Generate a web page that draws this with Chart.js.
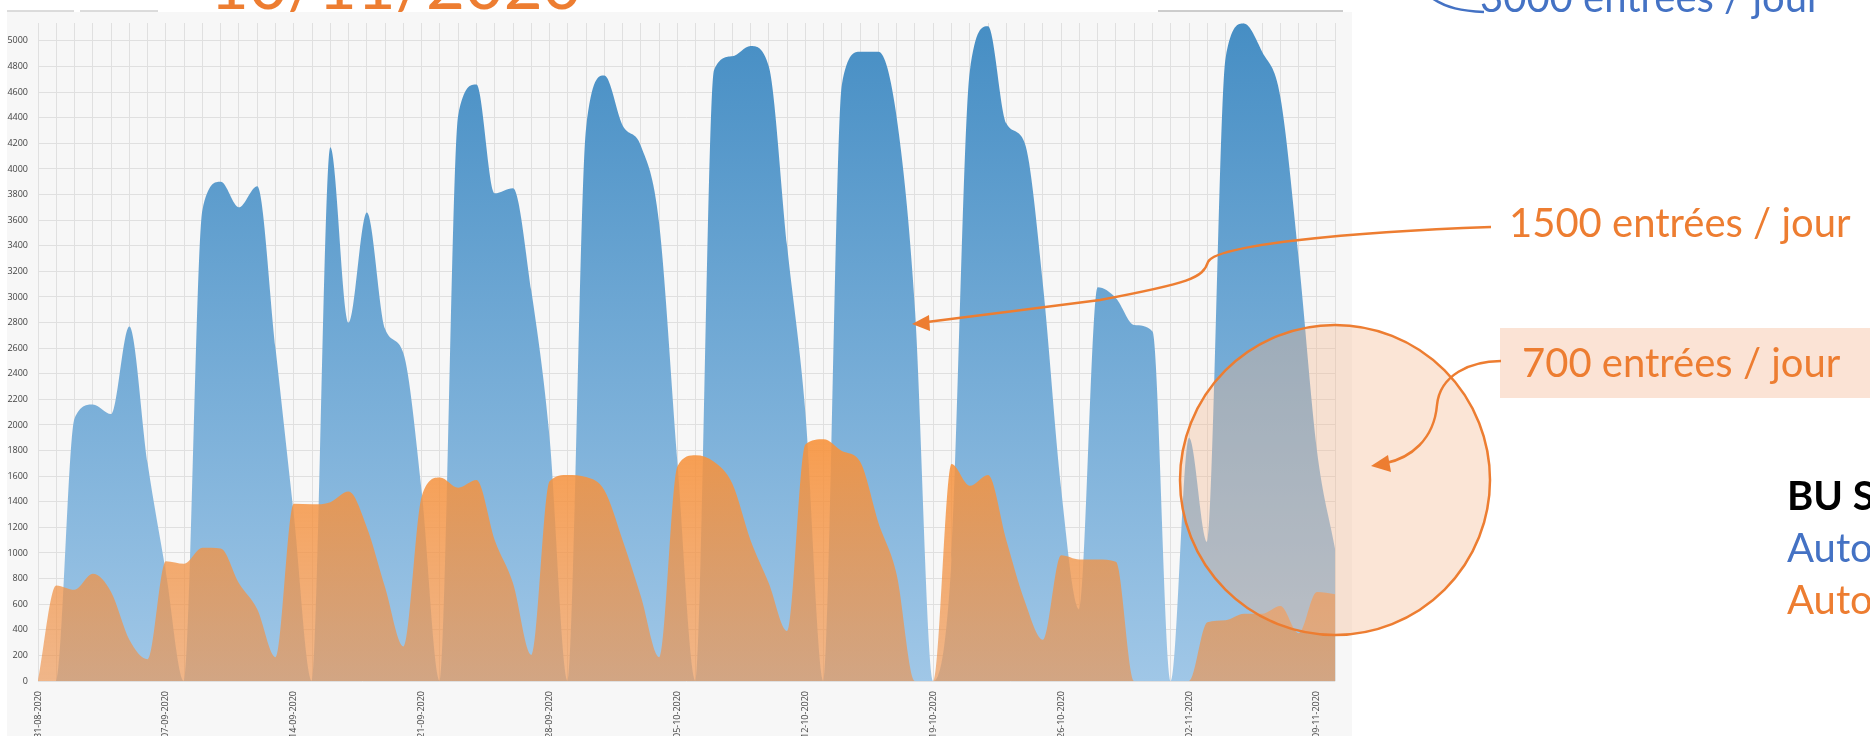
<!DOCTYPE html>
<html>
<head>
<meta charset="utf-8">
<script src="https://cdn.jsdelivr.net/npm/chart.js@4.4.1/dist/chart.umd.min.js"></script>
<style>
html,body{margin:0;padding:0;width:1870px;height:736px;overflow:hidden;background:#ffffff;}
#panel{position:absolute;left:7px;top:12px;width:1345px;height:724px;background:#f7f7f7;}
#wrap{position:absolute;left:0;top:0;width:1356px;height:736px;}
#c{width:1356px;height:736px;display:block;}
#ann{position:absolute;left:0;top:0;}
</style>
</head>
<body>
<div id="panel"></div>
<div id="wrap"><canvas id="c" width="1356" height="736"></canvas></div>
<svg id="ann" width="1870" height="736" xmlns="http://www.w3.org/2000/svg" font-family="Lato, 'Open Sans', sans-serif">
  <line x1="7" y1="11" x2="74" y2="11" stroke="#b8b8b8" stroke-width="1"/>
  <line x1="80" y1="11" x2="158" y2="11" stroke="#b8b8b8" stroke-width="1"/>
  <line x1="1158" y1="11" x2="1343" y2="11" stroke="#9a9a9a" stroke-width="1"/>
  <text x="210" y="9" font-size="67" fill="#ed7d31">10/11/2020</text>

  <path d="M1432,-2 C1446,8 1462,11 1484,12" stroke="#4472c4" stroke-width="2.5" fill="none"/>
  <text x="1480" y="12" font-size="40" fill="#4472c4">3000 entrées / jour</text>

  <text x="1509" y="237" font-size="40" fill="#ed7d31">1500 entrées / jour</text>
  <path d="M1491,227 C1350,232 1215,245 1208,262 C1203,278 1190,283 1100,300 L927,322" stroke="#ed7d31" stroke-width="2.5" fill="none"/>
  <polygon points="912,324 929,315 930,331" fill="#ed7d31"/>

  <circle cx="1335" cy="480" r="155" fill="rgba(244,181,138,0.35)" stroke="#ed7d31" stroke-width="2.5"/>
  <rect x="1500" y="328" width="370" height="70" fill="#fbe3d5"/>
  <text x="1522" y="377" font-size="40" fill="#ed7d31">700 entrées / jour</text>
  <path d="M1501,361 C1470,361 1440,375 1437,405 C1434,440 1410,458 1386,463" stroke="#ed7d31" stroke-width="2.5" fill="none"/>
  <polygon points="1371,466 1388,455 1391,472" fill="#ed7d31"/>

  <text x="1787" y="510" font-size="40" font-weight="bold" fill="#000000">BU Sa</text>
  <text x="1787" y="562" font-size="40" fill="#4472c4">Auto</text>
  <text x="1787" y="614" font-size="40" fill="#ed7d31">Auto</text>
</svg>
<script>
// Categories (one per day)
const dateLabels = [
  '31-08-2020',
  '01-09-2020','02-09-2020','03-09-2020','04-09-2020','05-09-2020','06-09-2020','07-09-2020','08-09-2020','09-09-2020','10-09-2020',
  '11-09-2020','12-09-2020','13-09-2020','14-09-2020','15-09-2020','16-09-2020','17-09-2020','18-09-2020','19-09-2020','20-09-2020',
  '21-09-2020','22-09-2020','23-09-2020','24-09-2020','25-09-2020','26-09-2020','27-09-2020','28-09-2020','29-09-2020','30-09-2020',
  '01-10-2020','02-10-2020','03-10-2020','04-10-2020','05-10-2020','06-10-2020','07-10-2020','08-10-2020','09-10-2020','10-10-2020',
  '11-10-2020','12-10-2020','13-10-2020','14-10-2020','15-10-2020','16-10-2020','17-10-2020','18-10-2020','19-10-2020','20-10-2020',
  '21-10-2020','22-10-2020','23-10-2020','24-10-2020','25-10-2020','26-10-2020','27-10-2020','28-10-2020','29-10-2020','30-10-2020',
  '31-10-2020','01-11-2020','02-11-2020','03-11-2020','04-11-2020','05-11-2020','06-11-2020','07-11-2020','08-11-2020','09-11-2020',
  '10-11-2020'
];

// Blue series (entries per day)
const blueEntries = [
  0, 0, 2050, 2160, 2085, 2770, 1700, 850, 0, 3680,
  3900, 3700, 3865, 2600, 1300, 0, 4170, 2800, 3660, 2750,
  2560, 1480, 0, 4420, 4660, 3810, 3850, 3050, 1900, 0,
  4320, 4730, 4340, 4180, 3570, 1700, 0, 4770, 4880, 4960,
  4800, 3400, 2100, 0, 4660, 4915, 4915, 4400, 2900, 0,
  950, 4760, 5115, 4356, 4204, 3100, 1500, 560, 3075, 2990,
  2780, 2730, 0, 1900, 1085, 4865, 5136, 4915, 4560, 3300,
  1800, 1025
];

// Orange series (entries per day)
const orangeEntries = [
  0, 746, 712, 837, 695, 322, 170, 935, 915, 1040,
  1035, 763, 560, 186, 1385, 1380, 1397, 1480, 1200, 730,
  270, 1440, 1590, 1510, 1570, 1100, 763, 203, 1560, 1610,
  1593, 1490, 1100, 660, 186, 1678, 1763, 1712, 1542, 1100,
  763, 390, 1848, 1888, 1797, 1712, 1237, 830, 0, 0,
  1695, 1525, 1610, 1100, 627, 322, 983, 950, 950, 932,
  0, 0, 0, 0, 458, 475, 525, 525, 586, 373,
  695, 678
];

// Y axis
const yMin = 0;
const yMax = 5140;
const yStep = 200;
const labelEvery = 7;

function blueFill(context) {
  const chart = context.chart;
  const a = chart.chartArea;
  if (!a) return 'rgb(100,160,210)';
  const g = chart.ctx.createLinearGradient(0, a.bottom, 0, a.top);
  g.addColorStop(0, 'rgb(160,199,231)');
  g.addColorStop(1, 'rgb(70,142,196)');
  return g;
}
function orangeFill(context) {
  const chart = context.chart;
  const a = chart.chartArea;
  if (!a) return 'rgba(245,150,70,0.8)';
  const g = chart.ctx.createLinearGradient(0, a.bottom, 0, a.top);
  g.addColorStop(0, 'rgba(236,148,80,0.66)');
  g.addColorStop(0.38, 'rgba(248,146,58,0.9)');
  g.addColorStop(1, 'rgba(248,146,58,0.9)');
  return g;
}

const gridColor = '#e0e0e0';
const tickFont = {family: "'Open Sans', 'DejaVu Sans', sans-serif", size: 9};

new Chart(document.getElementById('c').getContext('2d'), {
  type: 'line',
  data: {
    labels: dateLabels,
    datasets: [
      {
        label: 'Automate bleu',
        data: blueEntries,
        order: 2,
        fill: 'origin',
        backgroundColor: blueFill,
        borderColor: 'rgba(0,0,0,0)',
        borderWidth: 0,
        pointRadius: 0,
        cubicInterpolationMode: 'monotone'
      },
      {
        label: 'Automate orange',
        data: orangeEntries,
        order: 1,
        fill: 'origin',
        backgroundColor: orangeFill,
        borderColor: 'rgba(0,0,0,0)',
        borderWidth: 0,
        pointRadius: 0,
        cubicInterpolationMode: 'monotone'
      }
    ]
  },
  options: {
    responsive: false,
    animation: false,
    devicePixelRatio: 1,
    layout: {padding: {left: 0, right: 14, top: 23, bottom: 0}},
    plugins: {legend: {display: false}, tooltip: {enabled: false}},
    scales: {
      x: {
        grid: {color: gridColor, drawTicks: false},
        border: {display: false},
        ticks: {
          autoSkip: false, minRotation: 90, maxRotation: 90, padding: 10,
          font: tickFont, color: '#444444',
          callback: (v, i) => (i % labelEvery === 0 ? dateLabels[i] : '')
        },
        afterFit(s) { s.height = 55; }
      },
      y: {
        min: yMin, max: yMax,
        grid: {
          color: (c) => (c.tick && c.tick.value % yStep === 0 ? gridColor : 'rgba(0,0,0,0)'),
          drawTicks: false
        },
        border: {display: false},
        ticks: {
          stepSize: yStep, padding: 10, font: tickFont, color: '#444444',
          callback: (v) => (v % yStep === 0 ? v : '')
        },
        afterFit(s) { s.width = 38; }
      }
    }
  }
});
</script>
</body>
</html>
